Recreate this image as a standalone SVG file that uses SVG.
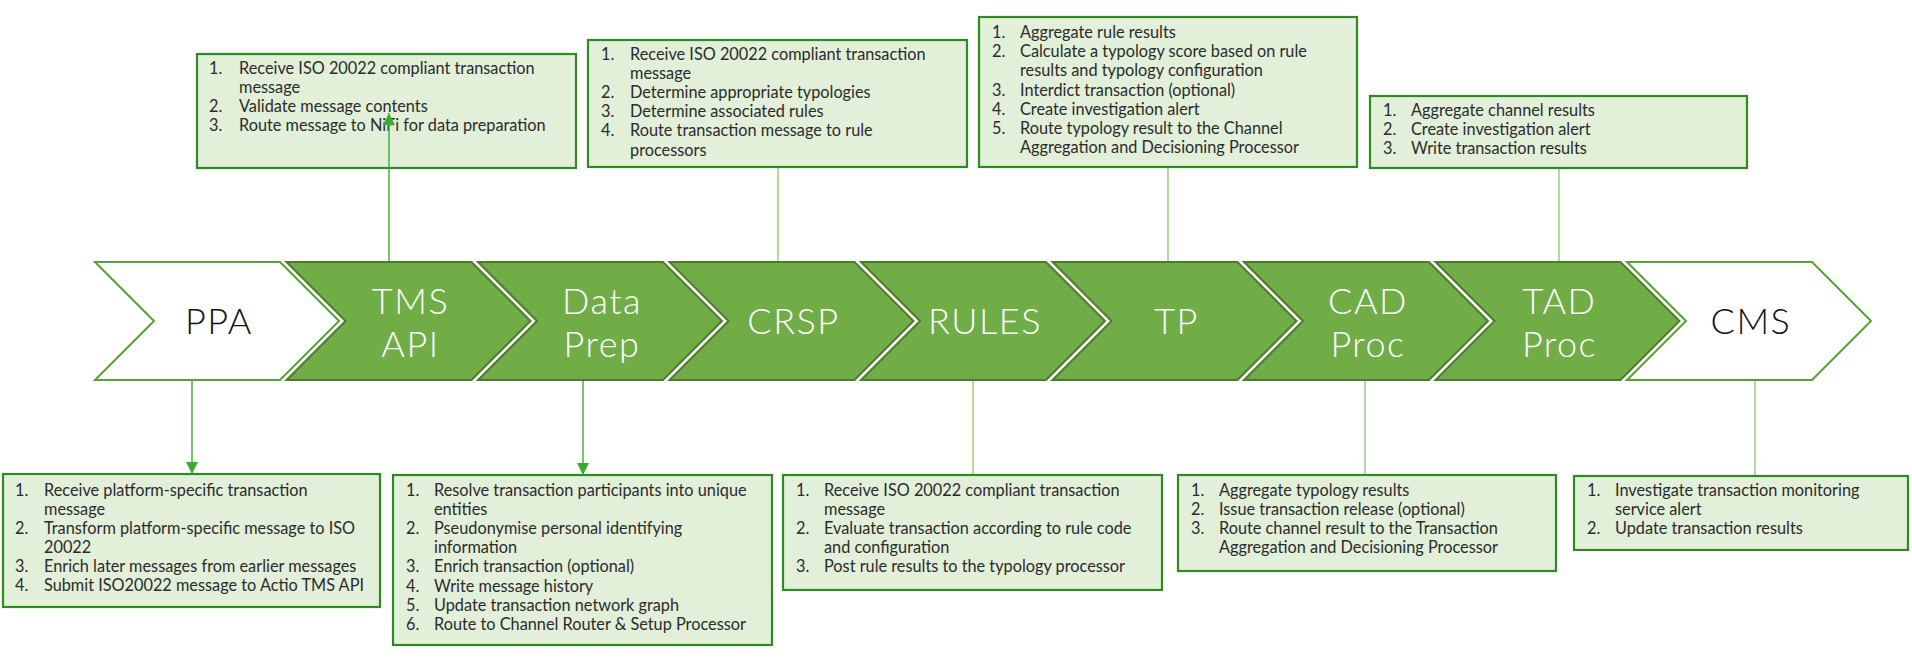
<svg xmlns="http://www.w3.org/2000/svg" width="1912" height="662" viewBox="0 0 1912 662">
<style>
.bg{fill:#ffffff}
.chg{fill:#70AD47;stroke:#4C7B2E;stroke-width:2}
.chw{fill:#ffffff;stroke:#55A332;stroke-width:2}
.lbl{font-family:Lato,"Liberation Sans",sans-serif;font-weight:300;font-size:36px;letter-spacing:1.5px;text-anchor:middle}
.lw{fill:#ffffff}
.lb{fill:#111111}
.box{fill:#E2EFD9;stroke:#2F8A23;stroke-width:2.2}
.t{font-family:Lato,"Liberation Sans",sans-serif;font-size:16.3px;fill:#2b2b2b}
.ln{stroke:#7CBF5A;stroke-width:1.2;fill:none}
.ar{stroke:#3DAA34;stroke-width:1.4;fill:none}
</style>
<defs>
<marker id="ah" markerUnits="userSpaceOnUse" markerWidth="12" markerHeight="12" refX="12" refY="6" orient="auto">
<path d="M0,0 L12,6 L0,12 z" fill="#3DAA34"/>
</marker>
</defs>
<rect class="bg" x="0" y="0" width="1912" height="662"/>

<g id="node-ppa">
<polygon class="chw" points="95,262 280,262 339,321 280,380 95,380 154,321"/>
<text class="lbl lb" x="219" y="334">PPA</text>
</g>
<g id="node-tmsapi">
<polygon class="chg" points="286.5,262 471.5,262 530.5,321 471.5,380 286.5,380 345.5,321"/>
<text class="lbl lw" x="410.5" y="314">TMS</text>
<text class="lbl lw" x="410.5" y="357">API</text>
</g>
<g id="node-dataprep">
<polygon class="chg" points="478,262 663,262 722,321 663,380 478,380 537,321"/>
<text class="lbl lw" x="602" y="314">Data</text>
<text class="lbl lw" x="602" y="357">Prep</text>
</g>
<g id="node-crsp">
<polygon class="chg" points="669.5,262 854.5,262 913.5,321 854.5,380 669.5,380 728.5,321"/>
<text class="lbl lw" x="793.5" y="334">CRSP</text>
</g>
<g id="node-rules">
<polygon class="chg" points="861,262 1046,262 1105,321 1046,380 861,380 920,321"/>
<text class="lbl lw" x="985" y="334">RULES</text>
</g>
<g id="node-tp">
<polygon class="chg" points="1052.5,262 1237.5,262 1296.5,321 1237.5,380 1052.5,380 1111.5,321"/>
<text class="lbl lw" x="1176.5" y="334">TP</text>
</g>
<g id="node-cadproc">
<polygon class="chg" points="1244,262 1429,262 1488,321 1429,380 1244,380 1303,321"/>
<text class="lbl lw" x="1368" y="314">CAD</text>
<text class="lbl lw" x="1368" y="357">Proc</text>
</g>
<g id="node-tadproc">
<polygon class="chg" points="1435.5,262 1620.5,262 1679.5,321 1620.5,380 1435.5,380 1494.5,321"/>
<text class="lbl lw" x="1559.5" y="314">TAD</text>
<text class="lbl lw" x="1559.5" y="357">Proc</text>
</g>
<g id="node-cms">
<polygon class="chw" points="1627,262 1812,262 1871,321 1812,380 1627,380 1686,321"/>
<text class="lbl lb" x="1751" y="334">CMS</text>
</g>

<g id="box-tmsapi">
<rect class="box" x="197" y="54" width="379" height="114"/>
<text class="t"><tspan x="209" y="73.5">1.</tspan><tspan x="239" y="73.5">Receive ISO 20022 compliant transaction</tspan><tspan x="239" y="92.8">message</tspan><tspan x="209" y="112.1">2.</tspan><tspan x="239" y="112.1">Validate message contents</tspan><tspan x="209" y="131.4">3.</tspan><tspan x="239" y="131.4">Route message to NiFi for data preparation</tspan></text>
</g>
<g id="box-crsp">
<rect class="box" x="588" y="40" width="379" height="127"/>
<text class="t"><tspan x="601" y="60">1.</tspan><tspan x="630" y="60">Receive ISO 20022 compliant transaction</tspan><tspan x="630" y="79.1">message</tspan><tspan x="601" y="98.2">2.</tspan><tspan x="630" y="98.2">Determine appropriate typologies</tspan><tspan x="601" y="117.3">3.</tspan><tspan x="630" y="117.3">Determine associated rules</tspan><tspan x="601" y="136.4">4.</tspan><tspan x="630" y="136.4">Route transaction message to rule</tspan><tspan x="630" y="155.5">processors</tspan></text>
</g>
<g id="box-tp">
<rect class="box" x="979" y="17" width="378" height="150"/>
<text class="t"><tspan x="992" y="38">1.</tspan><tspan x="1020" y="38">Aggregate rule results</tspan><tspan x="992" y="57.2">2.</tspan><tspan x="1020" y="57.2">Calculate a typology score based on rule</tspan><tspan x="1020" y="76.4">results and typology configuration</tspan><tspan x="992" y="95.6">3.</tspan><tspan x="1020" y="95.6">Interdict transaction (optional)</tspan><tspan x="992" y="114.8">4.</tspan><tspan x="1020" y="114.8">Create investigation alert</tspan><tspan x="992" y="134">5.</tspan><tspan x="1020" y="134">Route typology result to the Channel</tspan><tspan x="1020" y="153.2">Aggregation and Decisioning Processor</tspan></text>
</g>
<g id="box-tadproc">
<rect class="box" x="1370" y="96" width="377" height="72"/>
<text class="t"><tspan x="1383" y="115.5">1.</tspan><tspan x="1411" y="115.5">Aggregate channel results</tspan><tspan x="1383" y="134.5">2.</tspan><tspan x="1411" y="134.5">Create investigation alert</tspan><tspan x="1383" y="153.5">3.</tspan><tspan x="1411" y="153.5">Write transaction results</tspan></text>
</g>
<g id="box-ppa">
<rect class="box" x="3" y="474" width="377" height="133"/>
<text class="t"><tspan x="15" y="495.7">1.</tspan><tspan x="44" y="495.7">Receive platform-specific transaction</tspan><tspan x="44" y="514.8">message</tspan><tspan x="15" y="533.9">2.</tspan><tspan x="44" y="533.9">Transform platform-specific message to ISO</tspan><tspan x="44" y="553">20022</tspan><tspan x="15" y="572.1">3.</tspan><tspan x="44" y="572.1">Enrich later messages from earlier messages</tspan><tspan x="15" y="591.2">4.</tspan><tspan x="44" y="591.2">Submit ISO20022 message to Actio TMS API</tspan></text>
</g>
<g id="box-dataprep">
<rect class="box" x="393" y="475" width="379" height="170"/>
<text class="t"><tspan x="406" y="496">1.</tspan><tspan x="434" y="496">Resolve transaction participants into unique</tspan><tspan x="434" y="515.1">entities</tspan><tspan x="406" y="534.2">2.</tspan><tspan x="434" y="534.2">Pseudonymise personal identifying</tspan><tspan x="434" y="553.3">information</tspan><tspan x="406" y="572.4">3.</tspan><tspan x="434" y="572.4">Enrich transaction (optional)</tspan><tspan x="406" y="591.5">4.</tspan><tspan x="434" y="591.5">Write message history</tspan><tspan x="406" y="610.6">5.</tspan><tspan x="434" y="610.6">Update transaction network graph</tspan><tspan x="406" y="629.7">6.</tspan><tspan x="434" y="629.7">Route to Channel Router &amp; Setup Processor</tspan></text>
</g>
<g id="box-rules">
<rect class="box" x="783" y="475" width="379" height="115"/>
<text class="t"><tspan x="796" y="495.7">1.</tspan><tspan x="824" y="495.7">Receive ISO 20022 compliant transaction</tspan><tspan x="824" y="514.8">message</tspan><tspan x="796" y="533.9">2.</tspan><tspan x="824" y="533.9">Evaluate transaction according to rule code</tspan><tspan x="824" y="553">and configuration</tspan><tspan x="796" y="572.1">3.</tspan><tspan x="824" y="572.1">Post rule results to the typology processor</tspan></text>
</g>
<g id="box-cadproc">
<rect class="box" x="1178" y="475" width="378" height="96"/>
<text class="t"><tspan x="1191" y="495.7">1.</tspan><tspan x="1219" y="495.7">Aggregate typology results</tspan><tspan x="1191" y="514.8">2.</tspan><tspan x="1219" y="514.8">Issue transaction release (optional)</tspan><tspan x="1191" y="533.9">3.</tspan><tspan x="1219" y="533.9">Route channel result to the Transaction</tspan><tspan x="1219" y="553">Aggregation and Decisioning Processor</tspan></text>
</g>
<g id="box-cms">
<rect class="box" x="1574" y="476" width="334" height="74"/>
<text class="t"><tspan x="1587" y="495.7">1.</tspan><tspan x="1615" y="495.7">Investigate transaction monitoring</tspan><tspan x="1615" y="514.8">service alert</tspan><tspan x="1587" y="533.9">2.</tspan><tspan x="1615" y="533.9">Update transaction results</tspan></text>
</g>

<g id="connectors">
<line class="ar" x1="192" y1="381" x2="192" y2="474" marker-end="url(#ah)"/>
<line class="ar" x1="389" y1="261" x2="389" y2="113" marker-end="url(#ah)"/>
<line class="ar" x1="583" y1="381" x2="583" y2="475" marker-end="url(#ah)"/>
<line class="ln" x1="778" y1="168" x2="778" y2="261"/>
<line class="ln" x1="1168" y1="168" x2="1168" y2="261"/>
<line class="ln" x1="1559" y1="169" x2="1559" y2="261"/>
<line class="ln" x1="973" y1="381" x2="973" y2="474"/>
<line class="ln" x1="1365" y1="381" x2="1365" y2="474"/>
<line class="ln" x1="1755" y1="381" x2="1755" y2="475"/>
</g>
</svg>
